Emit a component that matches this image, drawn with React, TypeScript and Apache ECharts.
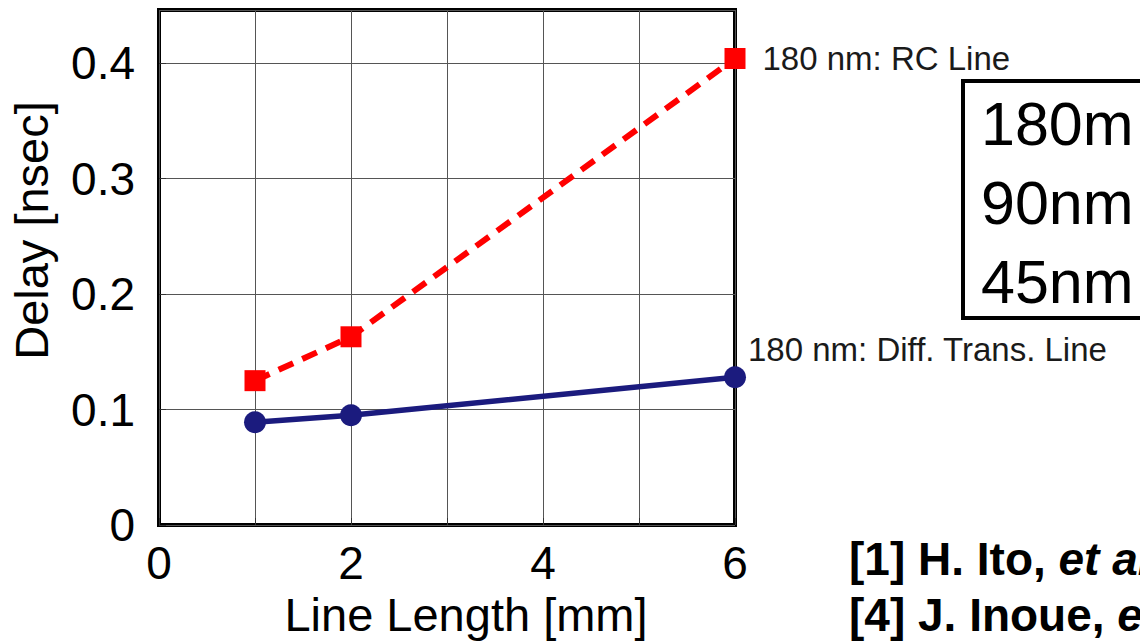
import React, { useEffect, useRef } from "react";
import * as echarts from "echarts";

const lineLengths = [1, 2, 6];
const rcDelay = [0.125, 0.163, 0.404];
const diffDelay = [0.089, 0.095, 0.128];
const xTickLabels = [0, 2, 4, 6];
const yTickLabels = [0, 0.1, 0.2, 0.3, 0.4];
const rcLabel = "180 nm: RC Line";
const diffLabel = "180 nm: Diff. Trans. Line";
const boxLines = ["180m", "90nm", "45nm"];
const refLines = ["[1] H. Ito, {i|et al.}", "[4] J. Inoue, {i|et al.}"];

const FONT = "'Liberation Sans', Arial, Helvetica, sans-serif";
const NAVY = "#1b1b7e";
const RED = "#ff0000";

export default function App() {
  const ref = useRef<HTMLDivElement>(null);
  useEffect(() => {
    if (!ref.current) return;
    const chart = echarts.init(ref.current, null, { renderer: "svg" });
    const rcData = lineLengths.map((x, i) =>
      i === lineLengths.length - 1
        ? {
            value: [x, rcDelay[i]],
            label: {
              show: true,
              position: "right",
              distance: 17,
              formatter: rcLabel,
              fontSize: 33,
              color: "#1a1a1a",
              fontFamily: FONT,
            },
          }
        : [x, rcDelay[i]]
    );
    const diffData = lineLengths.map((x, i) =>
      i === lineLengths.length - 1
        ? {
            value: [x, diffDelay[i]],
            label: {
              show: true,
              position: [24, -17],
              verticalAlign: "middle",
              align: "left",
              formatter: diffLabel,
              fontSize: 33,
              color: "#1a1a1a",
              fontFamily: FONT,
            },
          }
        : [x, diffDelay[i]]
    );
    chart.setOption({
      animation: false,
      grid: {
        left: 159,
        right: 405,
        top: 10,
        bottom: 117,
        containLabel: false,
        outerBoundsMode: "none",
        show: true,
        borderColor: "#000",
        borderWidth: 4,
        backgroundColor: "transparent",
      },
      xAxis: {
        type: "value",
        min: 0,
        max: 6,
        interval: 1,
        axisLine: { show: false },
        axisTick: { show: true, inside: true, length: 7, lineStyle: { color: "#333" } },
        splitLine: { show: true, lineStyle: { color: "#555", width: 1 } },
        axisLabel: {
          formatter: (v: number) => (xTickLabels.includes(v) ? String(v) : ""),
          fontSize: 46,
          color: "#000",
          margin: 15,
          fontFamily: FONT,
        },
        name: "Line Length [mm]",
        nameLocation: "middle",
        nameGap: 65,
        nameTextStyle: { fontSize: 47, color: "#000", fontFamily: FONT, padding: [0, 0, 0, 38] },
      },
      yAxis: {
        type: "value",
        min: 0,
        max: 0.446,
        interval: 0.1,
        axisLine: { show: false },
        axisTick: { show: true, inside: true, length: 7, lineStyle: { color: "#333" } },
        splitLine: { show: true, lineStyle: { color: "#555", width: 1 } },
        axisLabel: {
          showMaxLabel: false,
          formatter: (v: number) => {
            const hit = yTickLabels.find((t) => Math.abs(t - v) < 1e-6);
            return hit === undefined ? "" : hit === 0 ? "0" : hit.toFixed(1);
          },
          fontSize: 46,
          color: "#000",
          margin: 24,
          fontFamily: FONT,
        },
        name: "Delay [nsec]",
        nameLocation: "middle",
        nameGap: 104,
        nameTextStyle: { fontSize: 47, color: "#000", fontFamily: FONT, padding: [0, 0, 0, 74] },
      },
      series: [
        {
          type: "line",
          data: diffData,
          symbol: "circle",
          symbolSize: 22,
          clip: false,
          itemStyle: { color: NAVY },
          lineStyle: { color: NAVY, width: 5.5 },
          z: 3,
        },
        {
          type: "line",
          data: rcData,
          symbol: "rect",
          symbolSize: 21,
          clip: false,
          itemStyle: { color: RED },
          lineStyle: { color: RED, width: 6, type: [16, 10] },
          z: 4,
        },
      ],
      graphic: [
        {
          type: "rect",
          shape: { x: 963, y: 81, width: 400, height: 237 },
          style: { fill: "none", stroke: "#000", lineWidth: 4 },
        },
        ...boxLines.map((t, i) => ({
          type: "text",
          x: 981,
          y: 124 + i * 79,
          style: {
            text: t,
            fontSize: 61,
            fontFamily: FONT,
            fill: "#000",
            verticalAlign: "middle",
            align: "left",
          },
        })),
        ...refLines.map((t, i) => ({
          type: "text",
          x: 849,
          y: 559 + i * 56,
          style: {
            text: t,
            fontSize: 46,
            fontWeight: "bold",
            fontFamily: FONT,
            fill: "#000",
            verticalAlign: "middle",
            align: "left",
            rich: {
              i: { fontSize: 46, fontWeight: "bold", fontStyle: "italic", fontFamily: FONT, fill: "#000" },
            },
          },
        })),
      ],
    });
    return () => chart.dispose();
  }, []);
  return (
    <div
      ref={ref}
      style={{ position: "fixed", left: 0, top: 0, width: 1140, height: 642, background: "#fff" }}
    />
  );
}
